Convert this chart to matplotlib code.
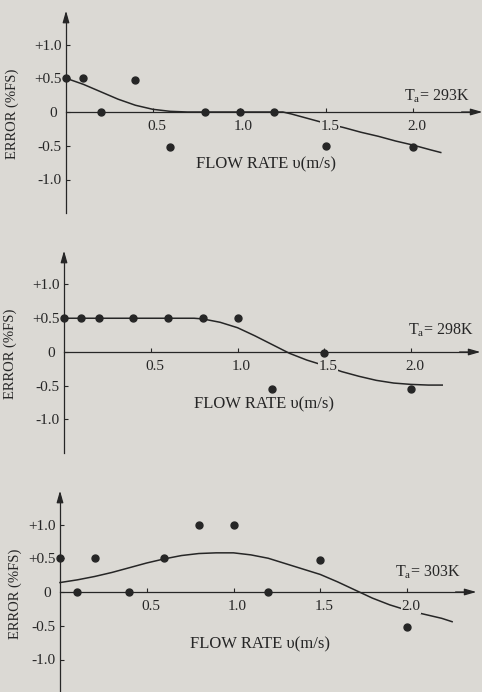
import matplotlib
matplotlib.use('Agg')
import matplotlib.pyplot as plt
from matplotlib.transforms import ScaledTranslation

plt.rcParams['font.family'] = ['Liberation Serif', 'DejaVu Serif']
plt.rcParams['mathtext.fontset'] = 'custom'
plt.rcParams['mathtext.rm'] = 'Liberation Serif'
plt.rcParams['mathtext.it'] = 'Liberation Serif:italic'

# ---------------- data ----------------
x_ticks = [0.5, 1.0, 1.5, 2.0]
x_tick_labels = ['0.5', '1.0', '1.5', '2.0']
y_ticks = [-1.0, -0.5, 0.0, 0.5, 1.0]
y_tick_labels = ['-1.0', '-0.5', '0', '+0.5', '+1.0']
x_label = 'FLOW RATE \u03c5(m/s)'
y_label = 'ERROR (%FS)'
temp_labels = ['293K', '298K', '303K']

# measured points
pts_x_293 = [0.0, 0.1, 0.2, 0.4, 0.6, 0.8, 1.0, 1.2, 1.5, 2.0]
pts_y_293 = [0.5, 0.5, 0.0, 0.47, -0.52, 0.0, 0.0, 0.0, -0.5, -0.52]
pts_x_298 = [0.0, 0.1, 0.2, 0.4, 0.6, 0.8, 1.0, 1.2, 1.5, 2.0]
pts_y_298 = [0.5, 0.51, 0.5, 0.51, 0.5, 0.5, 0.5, -0.55, -0.02, -0.55]
pts_x_303 = [0.0, 0.1, 0.2, 0.4, 0.6, 0.8, 1.0, 1.2, 1.5, 2.0]
pts_y_303 = [0.5, 0.0, 0.5, 0.0, 0.5, 1.0, 1.0, 0.0, 0.48, -0.52]

# fitted curves
crv_x_293 = [0.0, 0.1, 0.2, 0.3, 0.4, 0.5, 0.6, 0.7, 0.8, 0.9, 1.0, 1.1, 1.2, 1.25,
             1.3, 1.4, 1.5, 1.6, 1.7, 1.8, 1.9, 2.0, 2.1, 2.16]
crv_y_293 = [0.5, 0.41, 0.30, 0.19, 0.10, 0.04, 0.01, 0.0, 0.0, 0.0, 0.0, 0.0, 0.0, 0.0,
             -0.03, -0.10, -0.17, -0.23, -0.30, -0.36, -0.43, -0.49, -0.56, -0.6]
crv_x_298 = [0.0, 0.2, 0.4, 0.6, 0.7, 0.75, 0.8, 0.9, 1.0, 1.1, 1.2, 1.3, 1.4, 1.5,
             1.6, 1.7, 1.8, 1.9, 2.0, 2.1, 2.18]
crv_y_298 = [0.5, 0.5, 0.5, 0.5, 0.5, 0.5, 0.49, 0.44, 0.36, 0.24, 0.11, -0.02, -0.12, -0.2,
             -0.29, -0.36, -0.42, -0.46, -0.48, -0.49, -0.49]
crv_x_303 = [0.0, 0.1, 0.2, 0.3, 0.4, 0.5, 0.6, 0.7, 0.8, 0.9, 1.0, 1.1, 1.2, 1.3, 1.4,
             1.5, 1.6, 1.7, 1.8, 1.9, 2.0, 2.1, 2.2, 2.26]
crv_y_303 = [0.14, 0.18, 0.23, 0.29, 0.36, 0.43, 0.49, 0.54, 0.57, 0.58, 0.58, 0.55, 0.5,
             0.42, 0.34, 0.26, 0.15, 0.03, -0.09, -0.19, -0.27, -0.33, -0.39, -0.44]

panels = [
    (pts_x_293, pts_y_293, crv_x_293, crv_y_293, temp_labels[0]),
    (pts_x_298, pts_y_298, crv_x_298, crv_y_298, temp_labels[1]),
    (pts_x_303, pts_y_303, crv_x_303, crv_y_303, temp_labels[2]),
]

# ---------------- layout / style ----------------
W, H, DPI = 482, 692, 100
SX, SY = 173.5, 67.5          # pixels per data unit
# (origin x px, origin y px, top px, bottom px)
frames = [(66, 112, 0, 232), (64, 352, 232, 470), (60, 592, 470, 692)]
temp_pos = [(2.14, 0.23), (2.17, 0.32), (2.12, 0.29)]
ylab_x = [-0.31, -0.31, -0.26]
BG = '#dbd9d4'
INK = '#262626'

fig = plt.figure(figsize=(W / DPI, H / DPI), dpi=DPI, facecolor=BG)

for (px, py, cx, cy, tl), (x0, y0, top, bot), (tx, ty), yx in zip(panels, frames, temp_pos, ylab_x):
    ax = fig.add_axes([0, 1 - bot / H, 1, (bot - top) / H])
    ax.set_facecolor('none')
    ax.set_axisbelow(False)
    ax.set_xlim(-x0 / SX, (W - x0) / SX)
    ax.set_ylim(-(bot - y0) / SY, (y0 - top) / SY)

    for s in ('top', 'right'):
        ax.spines[s].set_visible(False)
    ax.spines['bottom'].set_position(('data', 0))
    ax.spines['left'].set_position(('data', 0))
    ax.spines['bottom'].set_bounds(0, 2.32)
    ax.spines['left'].set_bounds(-1.5, 1.42)
    for s in ('bottom', 'left'):
        ax.spines[s].set_color(INK)
        ax.spines[s].set_linewidth(0.9)

    # arrow heads
    ax.annotate('', xy=(2.4, 0), xytext=(2.28, 0),
                arrowprops=dict(arrowstyle='-|>,head_length=0.7,head_width=0.2',
                                color=INK, lw=0.9, shrinkA=0, shrinkB=0),
                annotation_clip=False)
    ax.annotate('', xy=(0, 1.5), xytext=(0, 1.35),
                arrowprops=dict(arrowstyle='-|>,head_length=0.7,head_width=0.2',
                                color=INK, lw=0.9, shrinkA=0, shrinkB=0),
                annotation_clip=False)

    ax.set_xticks(x_ticks)
    ax.set_xticklabels(x_tick_labels)
    ax.set_yticks(y_ticks)
    ax.set_yticklabels(y_tick_labels)
    ax.tick_params(axis='x', direction='in', length=3, width=0.8, pad=6,
                   labelsize=11, colors=INK)
    ax.tick_params(axis='y', direction='in', length=3, width=0.8, pad=3,
                   labelsize=11, colors=INK)
    for t in ax.xaxis.get_major_ticks():
        t.label1.set_transform(t.label1.get_transform() +
                               ScaledTranslation(4 / DPI, 0, fig.dpi_scale_trans))
        t.label1.set_bbox(dict(facecolor=BG, edgecolor='none', pad=0.3))
    zt = ax.yaxis.get_major_ticks()[2]
    zt.label1.set_transform(zt.label1.get_transform() +
                            ScaledTranslation(-5 / DPI, 0, fig.dpi_scale_trans))

    ax.plot(cx, cy, '-', color=INK, lw=1.1, clip_on=False, zorder=2)
    ax.plot(px, py, 'o', color=INK, ms=5, mec=INK, clip_on=False, zorder=3)

    ax.text(1.15, -0.78, x_label, ha='center', va='center', fontsize=12, color=INK)
    ax.text(yx, -0.02, y_label, rotation=90, ha='center', va='center',
            fontsize=10.5, color=INK)
    ax.text(tx, ty, r'T$_{\mathrm{a}}$= ' + tl, ha='center', va='center',
            fontsize=11.5, color=INK)

fig.savefig('out.png', dpi=DPI, facecolor=BG)
